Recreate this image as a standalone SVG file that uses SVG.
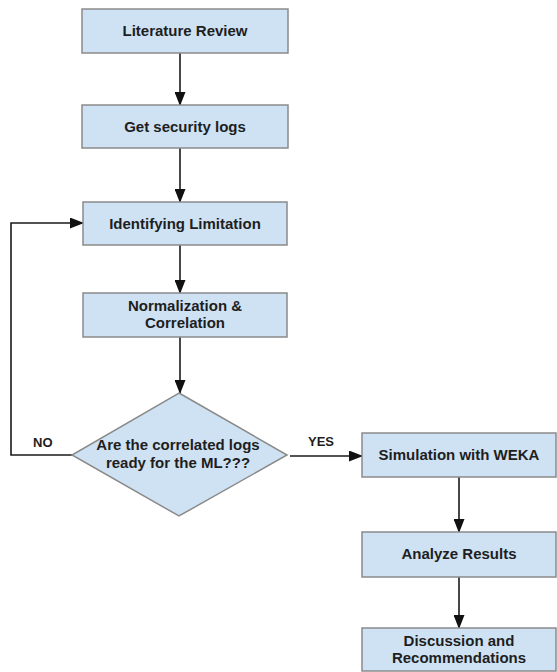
<svg xmlns="http://www.w3.org/2000/svg" width="557" height="672" viewBox="0 0 557 672">
<defs>
<style>
.box{fill:#cfe2f3;stroke:#8a8a8a;stroke-width:1.5}
.t{font-family:"Liberation Sans",Arial,sans-serif;font-weight:bold;font-size:15px;fill:#1e1e1e;text-anchor:middle}
.lbl{font-family:"Liberation Sans",Arial,sans-serif;font-weight:bold;font-size:13px;fill:#1e1e1e}
.c{fill:none;stroke:#1a1a1a;stroke-width:1.6}
</style>
<marker id="ah" markerWidth="14" markerHeight="11" refX="13" refY="5.5" orient="auto" markerUnits="userSpaceOnUse">
<path d="M0,0 L14,5.5 L0,11 Z" fill="#111"/>
</marker>
</defs>
<rect width="557" height="672" fill="#fff"/>
<g id="connectors">
<line class="c" x1="180" y1="53" x2="180" y2="105" marker-end="url(#ah)"/>
<line class="c" x1="180" y1="148" x2="180" y2="202" marker-end="url(#ah)"/>
<line class="c" x1="180" y1="245" x2="180" y2="293" marker-end="url(#ah)"/>
<line class="c" x1="180" y1="337" x2="180" y2="393" marker-end="url(#ah)"/>
<polyline class="c" points="73,455 11,455 11,223 83,223" marker-end="url(#ah)"/>
<line class="c" x1="290" y1="456" x2="362" y2="456" marker-end="url(#ah)"/>
<line class="c" x1="459" y1="477" x2="459" y2="532" marker-end="url(#ah)"/>
<line class="c" x1="459" y1="577" x2="459" y2="628" marker-end="url(#ah)"/>
<text class="lbl" x="33" y="447">NO</text>
<text class="lbl" x="308" y="446">YES</text>
</g>
<g id="n1"><rect class="box" x="82" y="9" width="206" height="44"/><text class="t" x="185" y="36">Literature Review</text></g>
<g id="n2"><rect class="box" x="82" y="105" width="206" height="43"/><text class="t" x="185" y="132">Get security logs</text></g>
<g id="n3"><rect class="box" x="83" y="202" width="204" height="43"/><text class="t" x="185" y="229">Identifying Limitation</text></g>
<g id="n4"><rect class="box" x="83" y="293" width="204" height="44"/><text class="t" x="185" y="311">Normalization &amp;</text><text class="t" x="185" y="328">Correlation</text></g>
<g id="n5"><polygon class="box" points="179,393 287,455 179,516 72,455"/><text class="t" x="178" y="450">Are the correlated logs</text><text class="t" x="178" y="468">ready for the ML???</text></g>
<g id="n6"><rect class="box" x="362" y="433" width="194" height="44"/><text class="t" x="459" y="460">Simulation with WEKA</text></g>
<g id="n7"><rect class="box" x="362" y="532" width="194" height="45"/><text class="t" x="459" y="559">Analyze Results</text></g>
<g id="n8"><rect class="box" x="362" y="628" width="194" height="43"/><text class="t" x="459" y="646">Discussion and</text><text class="t" x="459" y="663">Recommendations</text></g>
</svg>
